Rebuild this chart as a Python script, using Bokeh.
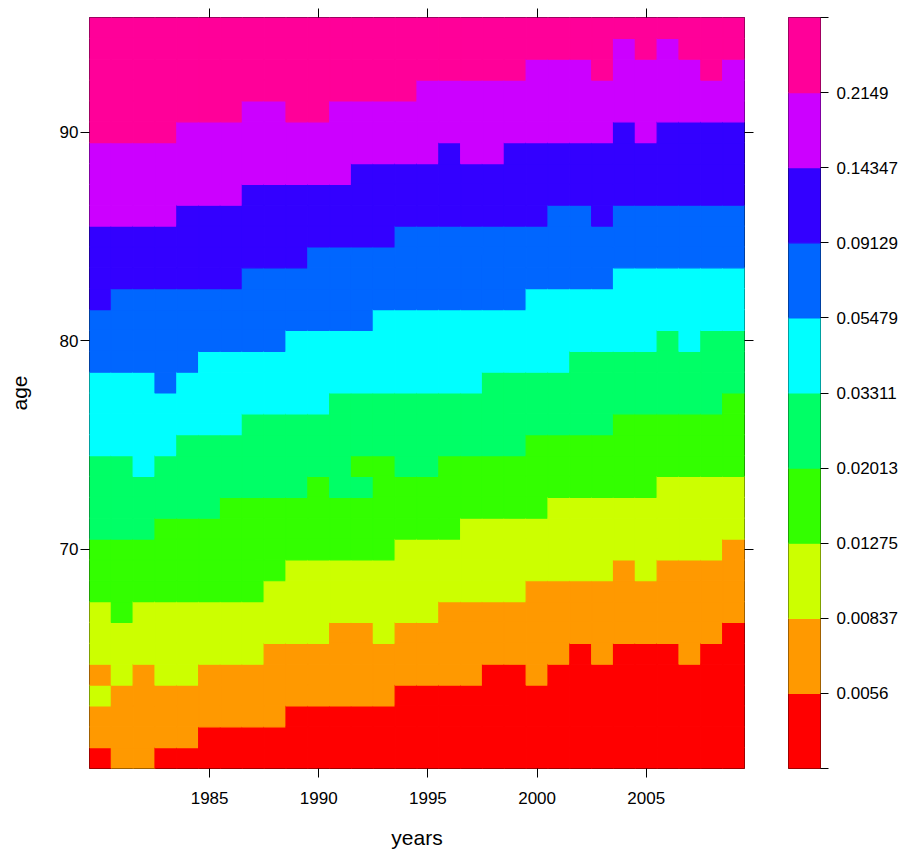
from bokeh.plotting import figure
from bokeh.models import LinearAxis, FixedTicker, ColumnDataSource, Range1d, LinearColorMapper
from bokeh.layouts import row
from bokeh.transform import transform
from bokeh.embed import file_html
from bokeh.resources import INLINE

years = list(range(1980, 2010))
ages = list(range(60, 96))

# colour key: class boundaries of the death rate
key_breaks = ["0.0056", "0.00837", "0.01275", "0.02013", "0.03311",
              "0.05479", "0.09129", "0.14347", "0.2149"]
palette = ["#FF0000", "#FF9900", "#CCFF00", "#33FF00", "#00FF66",
           "#00FFFF", "#0066FF", "#3300FF", "#CC00FF", "#FF0099"]

# for every year, the youngest age whose rate lies above each key break
above_0056 = [61, 60, 60, 61, 61, 62, 62, 62, 62, 63, 63, 63, 63, 63, 64,
              64, 64, 64, 65, 65, 64, 65, 66, 65, 66, 66, 66, 65, 66, 67]
above_00837 = [63, 64, 65, 64, 64, 65, 65, 65, 66, 66, 66, 67, 67, 66, 67,
               67, 68, 68, 68, 68, 69, 69, 69, 69, 70, 69, 70, 70, 70, 71]
above_01275 = [68, 67, 68, 68, 68, 68, 68, 68, 69, 70, 70, 70, 70, 70, 71,
               71, 71, 72, 72, 72, 72, 73, 73, 73, 73, 73, 74, 74, 74, 74]
above_02013 = [71, 71, 71, 72, 72, 72, 73, 73, 73, 73, 74, 73, 73, 75, 74,
               74, 75, 75, 75, 75, 76, 76, 76, 76, 77, 77, 77, 77, 77, 78]
above_03311 = [75, 75, 74, 75, 76, 76, 76, 77, 77, 77, 77, 78, 78, 78, 78,
               78, 78, 78, 79, 79, 79, 79, 80, 80, 80, 80, 81, 80, 81, 81]
above_05479 = [79, 79, 79, 78, 79, 80, 80, 80, 80, 81, 81, 81, 81, 82, 82,
               82, 82, 82, 82, 82, 83, 83, 83, 83, 84, 84, 84, 84, 84, 84]
above_09129 = [82, 83, 83, 83, 83, 83, 83, 84, 84, 84, 85, 85, 85, 85, 86,
               86, 86, 86, 86, 86, 86, 87, 87, 86, 87, 87, 87, 87, 87, 87]
above_14347 = [86, 86, 86, 86, 87, 87, 87, 88, 88, 88, 88, 88, 89, 89, 89,
               89, 90, 89, 89, 90, 90, 90, 90, 90, 91, 90, 91, 91, 91, 91]
above_2149 = [90, 90, 90, 90, 91, 91, 91, 92, 92, 91, 91, 92, 92, 92, 92,
              93, 93, 93, 93, 93, 94, 94, 94, 93, 95, 94, 95, 94, 93, 94]

# single cells lying in a lower class than the band around them
dips = {(1980, 64): 1, (1992, 74): 3}

band_starts = [above_0056, above_00837, above_01275, above_02013, above_03311,
               above_05479, above_09129, above_14347, above_2149]

cell_year, cell_age, cell_class = [], [], []
for i, yr in enumerate(years):
    for a in ages:
        k = sum(1 for s in band_starts if a >= s[i])
        k = dips.get((yr, a), k)
        cell_year.append(yr)
        cell_age.append(a)
        cell_class.append(k + 0.5)

src = ColumnDataSource(dict(year=cell_year, age=cell_age, cls=cell_class))
mapper = LinearColorMapper(palette=palette, low=0, high=len(palette))

FONT = "Liberation Sans"


def style_axis(ax, standoff=3):
    ax.axis_line_color = None
    ax.major_tick_line_color = "black"
    ax.major_tick_line_width = 1
    ax.major_tick_out = 9
    ax.major_tick_in = 0
    ax.minor_tick_line_color = "black"
    ax.minor_tick_out = 9
    ax.minor_tick_in = 0
    ax.major_label_standoff = standoff
    ax.major_label_text_font = FONT
    ax.major_label_text_color = "black"
    ax.major_label_text_font_size = "17px"
    ax.axis_label_text_font = FONT
    ax.axis_label_text_font_size = "21px"
    ax.axis_label_text_font_style = "normal"
    ax.axis_label_text_color = "black"


p = figure(x_range=Range1d(1979.5, 2009.5), y_range=Range1d(59.5, 95.5),
           frame_width=655, frame_height=751,
           min_border_left=89, min_border_right=20,
           min_border_top=17, min_border_bottom=81,
           x_axis_location=None, y_axis_location=None,
           toolbar_location=None, output_backend="svg")
p.background_fill_color = "white"
p.border_fill_color = "white"
p.outline_line_color = "black"
p.outline_line_width = 1
for g in p.grid:
    g.visible = False

p.rect(x="year", y="age", width=1, height=1, source=src,
       fill_color=transform("cls", mapper),
       line_color=transform("cls", mapper), line_width=1.2)

year_ticks = [1985, 1990, 1995, 2000, 2005]
age_ticks = [70, 80, 90]

xb = LinearAxis(ticker=FixedTicker(ticks=year_ticks), axis_label="years")
style_axis(xb, standoff=14)
xb.axis_label_standoff = 19
p.add_layout(xb, "below")

# unlabelled tick marks on the top and right edges of the panel
xt = LinearAxis(ticker=FixedTicker(ticks=[], minor_ticks=year_ticks))
style_axis(xt, standoff=0)
p.add_layout(xt, "above")

yl = LinearAxis(ticker=FixedTicker(ticks=age_ticks), axis_label="age")
style_axis(yl, standoff=2)
yl.axis_label_standoff = 26
p.add_layout(yl, "left")

yr_ax = LinearAxis(ticker=FixedTicker(ticks=[], minor_ticks=age_ticks))
style_axis(yr_ax, standoff=0)
p.add_layout(yr_ax, "right")

# colour key
key = figure(x_range=Range1d(0, 1), y_range=Range1d(0, len(palette)),
             frame_width=32, frame_height=751,
             min_border_left=24, min_border_right=78,
             min_border_top=17, min_border_bottom=81,
             x_axis_location=None, y_axis_location=None,
             toolbar_location=None, output_backend="svg")
key.outline_line_color = "black"
key.outline_line_width = 1
key.background_fill_color = "white"
key.border_fill_color = "white"
for g in key.grid:
    g.visible = False

key_src = ColumnDataSource(dict(bottom=list(range(len(palette))),
                                top=list(range(1, len(palette) + 1)),
                                color=palette))
key.quad(left=0, right=1, bottom="bottom", top="top", source=key_src,
         fill_color="color", line_color="color", line_width=1.2)

key_ticks = list(range(1, len(palette)))
ka = LinearAxis(ticker=FixedTicker(ticks=key_ticks, minor_ticks=[0, len(palette)]))
style_axis(ka, standoff=8)
ka.major_tick_out = 8
ka.minor_tick_out = 8
ka.major_label_overrides = {t: b for t, b in zip(key_ticks, key_breaks)}
key.add_layout(ka, "right")

layout = row(p, key)
open("out.html", "w").write(file_html(layout, INLINE))
